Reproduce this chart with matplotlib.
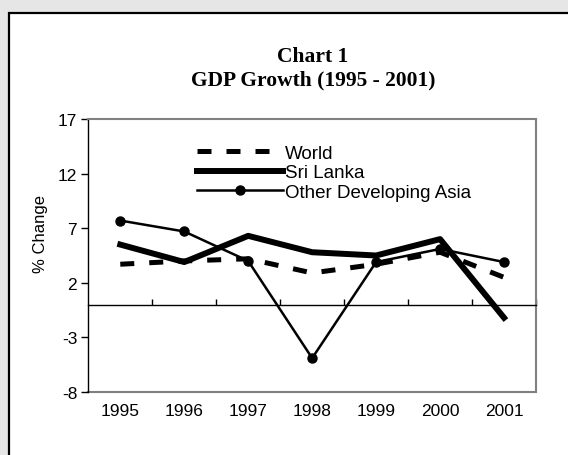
import matplotlib
matplotlib.use("Agg")
import matplotlib.pyplot as plt
from matplotlib.patches import Rectangle

# data
years = ["1995", "1996", "1997", "1998", "1999", "2000", "2001"]
world = [3.7, 4.0, 4.2, 2.9, 3.7, 4.8, 2.5]
sri_lanka = [5.5, 3.9, 6.3, 4.8, 4.5, 6.0, -1.2]
other_asia = [7.7, 6.7, 4.0, -4.9, 3.9, 5.1, 3.9]
y_ticks = [17, 12, 7, 2, -3, -8]

sans = "Liberation Sans"
serif = "Liberation Serif"
plt.rcParams["axes.unicode_minus"] = False

fig = plt.figure(figsize=(5.68, 4.56), dpi=100)
fig.patch.set_facecolor("#e6e6e6")

# white panel with black frame (runs off the right and bottom edge)
panel = Rectangle((9 / 568, -0.1), 1.2, (456 - 14) / 456 + 0.1,
                  transform=fig.transFigure, facecolor="white",
                  edgecolor="black", linewidth=1.6, zorder=0)
fig.patches.append(panel)

fig.text(0.551, (456 - 57) / 456, "Chart 1", ha="center", va="center",
         fontsize=15.5, fontweight="bold", family=serif)
fig.text(0.551, (456 - 80) / 456, "GDP Growth (1995 - 2001)", ha="center",
         va="center", fontsize=15.5, fontweight="bold", family=serif)

ax = fig.add_axes([88.3 / 568, (456 - 393) / 456, 447.7 / 568, 273 / 456])
ax.set_zorder(2)
ax.set_facecolor("white")

x = list(range(len(years)))

ax.plot(x, world, color="black", linewidth=3.6, dashes=(2.8, 3.0),
        label="World", zorder=3)
ax.plot(x, sri_lanka, color="black", linewidth=4.3, solid_joinstyle="round",
        label="Sri Lanka", zorder=4)
ax.plot(x, other_asia, color="black", linewidth=1.8, marker="o",
        markersize=6.5, label="Other Developing Asia", zorder=5)

ax.set_xlim(-0.5, len(years) - 0.5)
ax.set_ylim(min(y_ticks), max(y_ticks))

# frame
for side in ["top", "right"]:
    ax.spines[side].set_color("#808080")
    ax.spines[side].set_linewidth(1.5)
ax.spines["left"].set_color("black")
ax.spines["left"].set_linewidth(1.0)

# category axis crosses at zero, tick marks between categories
ax.spines["bottom"].set_position(("data", 0))
ax.spines["bottom"].set_color("black")
ax.spines["bottom"].set_linewidth(1.0)
ax.set_xticks([i + 0.5 for i in x])
ax.tick_params(axis="x", direction="in", length=4, width=1,
               labelbottom=False)

# gray bottom frame carrying the year labels
sec = ax.secondary_xaxis("bottom")
sec.set_xticks(x, labels=years)
sec.spines["bottom"].set_color("#808080")
sec.spines["bottom"].set_linewidth(1.5)
sec.tick_params(length=0, pad=8, labelsize=12.5)
for lab in sec.get_xticklabels():
    lab.set_family(sans)

ax.set_yticks(y_ticks)
ax.tick_params(axis="y", direction="out", length=5, width=1, pad=3,
               labelsize=12.5)
for lab in ax.get_yticklabels():
    lab.set_family(sans)

ax.set_ylabel("% Change", fontsize=12, family=sans)
ax.yaxis.set_label_coords(-0.09, 0.582)

leg = ax.legend(loc="upper left", bbox_to_anchor=(0.243, 0.905),
                frameon=False, borderpad=0, borderaxespad=0,
                handlelength=4.6, handletextpad=0.1, labelspacing=0.12,
                prop={"family": sans, "size": 13.5})

fig.savefig("out.png", dpi=100, facecolor=fig.get_facecolor())
